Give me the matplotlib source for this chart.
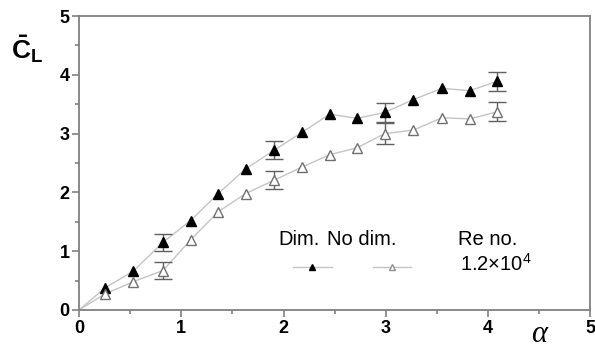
# Lift coefficient vs alpha, dim. and no dim. cases

import matplotlib.pyplot as plt
import numpy as np

plt.rcParams["font.family"] = ["Liberation Sans", "DejaVu Sans"]
plt.rcParams["mathtext.fontset"] = "custom"
plt.rcParams["mathtext.rm"] = "Liberation Sans"
plt.rcParams["mathtext.bf"] = "Liberation Sans:bold"
plt.rcParams["mathtext.it"] = "Liberation Serif:italic"

# Data
alpha = [0.25, 0.53, 0.82, 1.09, 1.36, 1.63, 1.91, 2.18, 2.45, 2.72, 2.99, 3.27, 3.55, 3.82, 4.09]
cl_dim = [0.37, 0.66, 1.15, 1.52, 1.98, 2.40, 2.72, 3.02, 3.33, 3.26, 3.36, 3.58, 3.77, 3.73, 3.89]
cl_nodim = [0.27, 0.48, 0.67, 1.19, 1.67, 1.98, 2.21, 2.43, 2.64, 2.76, 3.00, 3.06, 3.27, 3.25, 3.37]

# Error bars
err_alpha = [0.82, 1.91, 2.99, 4.09]
err_dim = [0.15, 0.15, 0.16, 0.16]
err_nodim = [0.15, 0.15, 0.18, 0.16]
err_dim_y = [1.15, 2.72, 3.36, 3.89]
err_nodim_y = [0.67, 2.21, 3.00, 3.37]

# Creating figure
fig = plt.figure(figsize=(5.95, 3.49), dpi=100)
ax = fig.add_axes([0.133, 0.112, 0.859, 0.842])

line_col = "#c4c4c4"
err_col = "#606060"

# Lines start at origin
ax.plot([0] + alpha, [0] + cl_dim, color=line_col, lw=1.0, zorder=1)
ax.plot([0] + alpha, [0] + cl_nodim, color=line_col, lw=1.0, zorder=1)

ax.errorbar(err_alpha, err_dim_y, yerr=err_dim, fmt="none", ecolor=err_col,
            elinewidth=1.0, capsize=6.5, capthick=1.0, zorder=2)
ax.errorbar(err_alpha, err_nodim_y, yerr=err_nodim, fmt="none", ecolor=err_col,
            elinewidth=1.0, capsize=6.5, capthick=1.0, zorder=2)

ax.plot(alpha, cl_dim, "^", color="black", ms=7, ls="none", zorder=3)
ax.plot(alpha, cl_nodim, "^", mfc="white", mec="#707070", mew=1.0, ms=7, ls="none", zorder=3)

# Axes setup
ax.set_xlim(0, 5)
ax.set_ylim(0, 5)
ax.set_xticks(range(6))
ax.set_yticks(range(6))
ax.set_xticks(np.arange(0.5, 5, 1), minor=True)
ax.set_yticks(np.arange(0.5, 5, 1), minor=True)
for s in ax.spines.values():
    s.set_color("#808080")
    s.set_linewidth(1.3)
ax.tick_params(which="both", direction="out", color="#808080", width=1.2,
               top=False, right=False)
ax.tick_params(which="major", length=5, labelsize=13, pad=2)
ax.tick_params(which="minor", length=3)
for lab in ax.get_xticklabels() + ax.get_yticklabels():
    lab.set_fontweight("bold")

# Axis labels
fig.text(0.045, 0.86, r"$\mathbf{\bar{C}_L}$", fontsize=19, ha="center", va="center")
fig.text(0.908, 0.0, r"$\alpha$", fontsize=22, ha="center", va="bottom")

# Hand made legend
hy = 0.238
fs = 14.5
ax.text(0.39, hy, "Dim.", transform=ax.transAxes, fontsize=fs, ha="left", va="center")
ax.text(0.484, hy, "No dim.", transform=ax.transAxes, fontsize=fs, ha="left", va="center")
ax.text(0.742, hy, "Re no.", transform=ax.transAxes, fontsize=fs, ha="left", va="center")
ly = 0.146
ax.plot([0.418, 0.495], [ly, ly], color=line_col, lw=1.0, transform=ax.transAxes)
ax.plot([0.4565], [ly], "^", color="black", ms=4.5, transform=ax.transAxes)
ax.plot([0.574, 0.65], [ly, ly], color=line_col, lw=1.0, transform=ax.transAxes)
ax.plot([0.612], [ly], "^", mfc="white", mec="#909090", ms=4.5, transform=ax.transAxes)
ax.text(0.745, ly + 0.01, r"1.2$\times$10$^4$", transform=ax.transAxes, fontsize=fs,
        ha="left", va="center")

fig.savefig("out.png", dpi=100)
